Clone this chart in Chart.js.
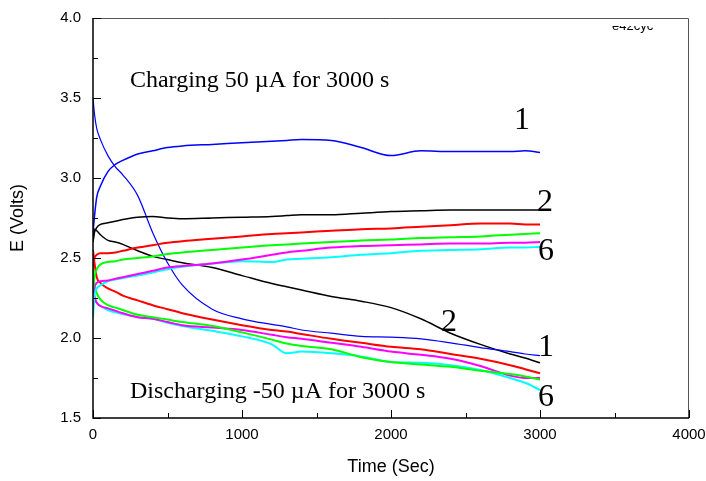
<!DOCTYPE html>
<html>
<head>
<meta charset="utf-8">
<script src="https://cdn.jsdelivr.net/npm/chart.js@4.4.1/dist/chart.umd.min.js"></script>
<style>
  html, body { margin: 0; padding: 0; background: #fff; }
  #wrap { width: 706px; height: 481px; }
</style>
</head>
<body>
<div id="wrap"><canvas id="chart" width="706" height="481"></canvas></div>
<script>
// sample times (s) shared by every curve
const times = [0, 10, 25, 50, 100, 150, 200, 300, 400, 500, 600, 800, 1000,
               1200, 1300, 1400, 1600, 1800, 2000, 2200, 2400, 2600, 2800, 2900, 3000];

// charging curves, E (V)
const cell1Charge = [2.66, 2.76, 2.88, 2.95, 3.04, 3.085, 3.11, 3.15, 3.17, 3.19, 3.20, 3.21, 3.22,
                     3.23, 3.235, 3.24, 3.235, 3.19, 3.14, 3.17, 3.165, 3.165, 3.165, 3.17, 3.16];
const cell2Charge = [2.60, 2.66, 2.69, 2.71, 2.72, 2.73, 2.74, 2.755, 2.76, 2.75, 2.745, 2.75, 2.755,
                     2.76, 2.765, 2.77, 2.77, 2.78, 2.79, 2.795, 2.80, 2.80, 2.80, 2.80, 2.80];
const cell3Charge = [2.45, 2.50, 2.52, 2.53, 2.53, 2.535, 2.545, 2.565, 2.58, 2.595, 2.605, 2.62, 2.635,
                     2.65, 2.655, 2.66, 2.67, 2.68, 2.685, 2.695, 2.705, 2.715, 2.715, 2.71, 2.71];
const cell4Charge = [2.30, 2.38, 2.43, 2.46, 2.475, 2.48, 2.49, 2.50, 2.51, 2.525, 2.535, 2.55, 2.565,
                     2.58, 2.585, 2.59, 2.60, 2.61, 2.615, 2.625, 2.63, 2.635, 2.645, 2.65, 2.655];
const cell5Charge = [2.28, 2.32, 2.345, 2.355, 2.36, 2.37, 2.38, 2.40, 2.42, 2.44, 2.45, 2.465, 2.49,
                     2.52, 2.535, 2.545, 2.565, 2.575, 2.58, 2.585, 2.59, 2.59, 2.595, 2.595, 2.60];
const cell6Charge = [2.13, 2.27, 2.31, 2.33, 2.355, 2.365, 2.375, 2.39, 2.41, 2.43, 2.445, 2.465, 2.48,
                     2.475, 2.49, 2.495, 2.505, 2.52, 2.53, 2.545, 2.55, 2.555, 2.565, 2.565, 2.57];

// discharging curves, E (V)
const cell1Discharge = [3.50, 3.40, 3.31, 3.24, 3.14, 3.07, 3.02, 2.89, 2.66, 2.47, 2.33, 2.18, 2.12,
                        2.085, 2.07, 2.05, 2.03, 2.01, 2.005, 1.995, 1.97, 1.94, 1.915, 1.90, 1.89];
const cell2Discharge = [2.60, 2.68, 2.67, 2.645, 2.61, 2.60, 2.585, 2.545, 2.51, 2.49, 2.47, 2.44, 2.39,
                        2.34, 2.32, 2.30, 2.26, 2.23, 2.19, 2.12, 2.03, 1.96, 1.90, 1.875, 1.845];
const cell3Discharge = [2.55, 2.47, 2.38, 2.345, 2.31, 2.29, 2.265, 2.235, 2.205, 2.18, 2.155, 2.115, 2.08,
                        2.05, 2.04, 2.025, 1.995, 1.97, 1.945, 1.93, 1.90, 1.87, 1.83, 1.805, 1.78];
const cell4Discharge = [2.45, 2.33, 2.28, 2.24, 2.205, 2.19, 2.175, 2.145, 2.13, 2.115, 2.10, 2.075, 2.035,
                        1.99, 1.965, 1.95, 1.93, 1.88, 1.85, 1.835, 1.82, 1.795, 1.775, 1.76, 1.74];
const cell5Discharge = [2.33, 2.26, 2.22, 2.20, 2.185, 2.17, 2.155, 2.13, 2.12, 2.10, 2.08, 2.065, 2.05,
                        2.02, 2.005, 1.995, 1.97, 1.945, 1.915, 1.895, 1.87, 1.825, 1.765, 1.75, 1.75];
const cell6Discharge = [2.30, 2.25, 2.22, 2.20, 2.175, 2.16, 2.15, 2.13, 2.12, 2.095, 2.075, 2.045, 2.01,
                        1.96, 1.905, 1.915, 1.905, 1.885, 1.85, 1.845, 1.83, 1.80, 1.75, 1.72, 1.675];

const xTicks = [0, 1000, 2000, 3000, 4000];
const yTicks = [1.5, 2.0, 2.5, 3.0, 3.5, 4.0];

const cellColors = ['#0000ff', '#000000', '#ff0000', '#00ff00', '#ff00ff', '#00ffff'];

// text placed on the plot, in data units
const notes = [
    { text: 'Charging 50 \u00b5A for 3000 s', x: 248, y: 3.57, size: 24, align: 'left' },
    { text: 'Discharging -50 \u00b5A for 3000 s', x: 248, y: 1.625, size: 24, align: 'left' },
    { text: '1', x: 2879, y: 3.305, size: 32, align: 'center' },
    { text: '2', x: 3034, y: 2.795, size: 32, align: 'center' },
    { text: '6', x: 3040, y: 2.485, size: 32, align: 'center' },
    { text: '2', x: 2389, y: 2.045, size: 32, align: 'center' },
    { text: '1', x: 3040, y: 1.885, size: 32, align: 'center' },
    { text: '6', x: 3040, y: 1.575, size: 32, align: 'center' },
];

function toPoints(values) {
    return values.map((v, i) => ({ x: times[i], y: v }));
}

const charges = [cell1Charge, cell2Charge, cell3Charge, cell4Charge, cell5Charge, cell6Charge];
const discharges = [cell1Discharge, cell2Discharge, cell3Discharge, cell4Discharge, cell5Discharge, cell6Discharge];

const datasets = [];
charges.forEach((vals, i) => {
    datasets.push({ label: 'cell ' + (i + 1) + ' charge', data: toPoints(vals),
        borderColor: cellColors[i], borderWidth: i < 2 ? 1.5 : 2 });
});
discharges.forEach((vals, i) => {
    datasets.push({ label: 'cell ' + (i + 1) + ' discharge', data: toPoints(vals),
        borderColor: cellColors[i], borderWidth: i === 0 ? 1.2 : (i === 1 ? 1.5 : 2) });
});

// frame, inward tick marks and the text notes
const framePlugin = {
    id: 'frame',
    afterDatasetsDraw(chart) {
        const { ctx, chartArea: a, scales: { x, y } } = chart;
        ctx.save();
        ctx.strokeStyle = '#555';
        ctx.lineWidth = 1;
        ctx.beginPath();
        ctx.moveTo(a.left, a.top + 0.5);
        ctx.lineTo(a.right - 0.5, a.top + 0.5);
        ctx.lineTo(a.right - 0.5, a.bottom);
        ctx.stroke();

        ctx.strokeStyle = '#000';
        ctx.lineWidth = 1.5;
        ctx.beginPath();
        ctx.moveTo(a.left, a.top);
        ctx.lineTo(a.left, a.bottom);
        ctx.lineTo(a.right, a.bottom);
        ctx.stroke();

        ctx.lineWidth = 1;
        ctx.beginPath();
        for (let i = 0; i < xTicks.length; i++) {
            const px = Math.round(x.getPixelForValue(xTicks[i])) + 0.5;
            ctx.moveTo(px, a.bottom);
            ctx.lineTo(px, a.bottom - 8);
            if (i < xTicks.length - 1) {
                const mx = Math.round(x.getPixelForValue((xTicks[i] + xTicks[i + 1]) / 2)) + 0.5;
                ctx.moveTo(mx, a.bottom);
                ctx.lineTo(mx, a.bottom - 5);
            }
        }
        for (let i = 0; i < yTicks.length; i++) {
            const py = Math.round(y.getPixelForValue(yTicks[i])) + 0.5;
            ctx.moveTo(a.left, py);
            ctx.lineTo(a.left + 8, py);
            if (i < yTicks.length - 1) {
                const my = Math.round(y.getPixelForValue((yTicks[i] + yTicks[i + 1]) / 2)) + 0.5;
                ctx.moveTo(a.left, my);
                ctx.lineTo(a.left + 5, my);
            }
        }
        ctx.stroke();

        ctx.fillStyle = '#000';
        ctx.textBaseline = 'alphabetic';
        notes.forEach(n => {
            ctx.font = n.size + 'px "Liberation Serif", "Times New Roman", serif';
            ctx.textAlign = n.align;
            ctx.fillText(n.text, x.getPixelForValue(n.x), y.getPixelForValue(n.y));
        });

        // file tag in the corner, its top half cut off as in the source
        ctx.save();
        ctx.beginPath();
        ctx.rect(a.left, y.getPixelForValue(3.95), a.width, 20);
        ctx.clip();
        ctx.font = '13px "Liberation Sans", Arial, sans-serif';
        ctx.textAlign = 'left';
        ctx.fillText('e42cyc', x.getPixelForValue(3483), y.getPixelForValue(3.925));
        ctx.restore();
        ctx.restore();
    }
};

const tickFont = { family: '"Liberation Sans", Arial, sans-serif', size: 15 };
const titleFont = { family: '"Liberation Sans", Arial, sans-serif', size: 18 };

new Chart(document.getElementById('chart').getContext('2d'), {
    type: 'line',
    data: { datasets },
    options: {
        responsive: false,
        animation: false,
        devicePixelRatio: 1,
        layout: { padding: { top: 18, right: 17, left: 0, bottom: 0 } },
        elements: {
            point: { radius: 0 },
            line: { cubicInterpolationMode: 'monotone', fill: false },
        },
        plugins: {
            legend: { display: false },
            tooltip: { enabled: false },
        },
        scales: {
            x: {
                type: 'linear',
                min: 0,
                max: 4000,
                afterBuildTicks: s => { s.ticks = xTicks.map(v => ({ value: v })); },
                afterFit: s => { s.height = 63; s.paddingLeft = 0; s.paddingRight = 0; },
                grid: { display: false, drawTicks: false },
                border: { display: false },
                ticks: { color: '#000', font: tickFont, padding: 8, maxRotation: 0,
                         callback: v => String(v) },
                title: { display: true, text: 'Time (Sec)', color: '#000', font: titleFont,
                         padding: { top: 0, bottom: 3 } },
            },
            y: {
                type: 'linear',
                min: 1.5,
                max: 4.0,
                afterBuildTicks: s => { s.ticks = yTicks.map(v => ({ value: v })); },
                afterFit: s => { s.width = 93; s.paddingTop = 0; s.paddingBottom = 0; },
                grid: { display: false, drawTicks: false },
                border: { display: false },
                ticks: { color: '#000', font: tickFont, padding: 12,
                         callback: v => Number(v).toFixed(1) },
                title: { display: true, text: 'E (Volts)', color: '#000', font: titleFont,
                         padding: { top: 7, bottom: 0 } },
            },
        },
    },
    plugins: [framePlugin],
});
</script>
</body>
</html>
